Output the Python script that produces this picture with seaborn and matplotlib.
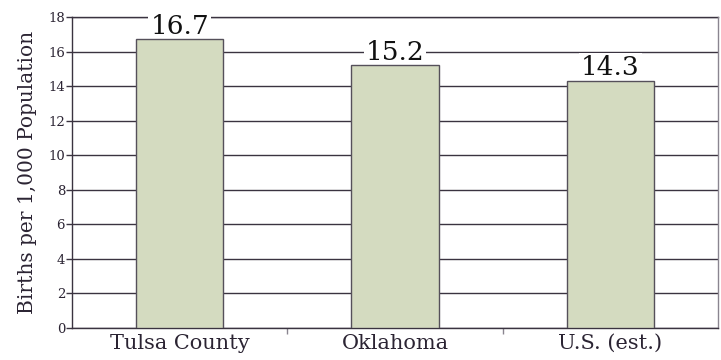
import matplotlib
matplotlib.use("Agg")
import matplotlib.pyplot as plt
import seaborn as sns
import pandas as pd

regions = ["Tulsa County", "Oklahoma", "U.S. (est.)"]
birth_rates = [16.7, 15.2, 14.3]
y_ticks = [0, 2, 4, 6, 8, 10, 12, 14, 16, 18]

df = pd.DataFrame({"region": regions, "rate": birth_rates})

sns.set_theme(style="white")
plt.rcParams["font.family"] = ["DejaVu Serif"]

ink = "#2b2433"
fig = plt.figure(figsize=(7.21, 3.6), dpi=100)
ax = fig.add_axes([72 / 721, 1 - 328 / 360, (718 - 72) / 721, (328 - 17) / 360])

sns.barplot(data=df, x="region", y="rate", ax=ax, color="#d4dbc0",
            saturation=1, width=0.405, edgecolor="#55505a", linewidth=1.0, zorder=3)

ax.set_ylim(0, 18)
ax.set_xlim(-0.5, 2.5)
ax.set_yticks(y_ticks)
ax.yaxis.grid(True, color="#3a3340", linewidth=1.0, zorder=0)
ax.set_axisbelow(True)

for side in ["left", "bottom", "top", "right"]:
    ax.spines[side].set_visible(True)
    ax.spines[side].set_linewidth(1.0)
ax.spines["left"].set_color("#3a3340")
ax.spines["bottom"].set_color("#3a3340")
ax.spines["top"].set_color("#3a3340")
ax.spines["top"].set_zorder(1)
ax.spines["right"].set_color("#8a8590")

ax.tick_params(axis="y", direction="out", length=4, width=1, color="#3a3340",
               labelsize=9.5, labelcolor=ink, pad=1, left=True)
ax.set_xticks([0, 1, 2])
ax.set_xticklabels(regions, fontsize=15, color=ink)
ax.tick_params(axis="x", length=0, pad=4)
# category separator ticks on the baseline
ax.set_xticks([0.5, 1.5], minor=True)
ax.tick_params(axis="x", which="minor", direction="out", length=4, width=1,
               color="#8a8590", bottom=True)

ax.set_xlabel("")
ax.set_ylabel("Births per 1,000 Population", fontsize=14.5, color=ink, labelpad=8)

# value labels sit on a white box that hides the gridlines but stays under the bars
for i, v in enumerate(birth_rates):
    ax.annotate(f"{v}", xy=(i, v), xytext=(0, 4), textcoords="offset points",
                ha="center", va="baseline", fontsize=19, color="#111111", zorder=2.5,
                annotation_clip=False,
                bbox=dict(facecolor="white", edgecolor="none", pad=1.5))

fig.savefig("out.png", dpi=100)
